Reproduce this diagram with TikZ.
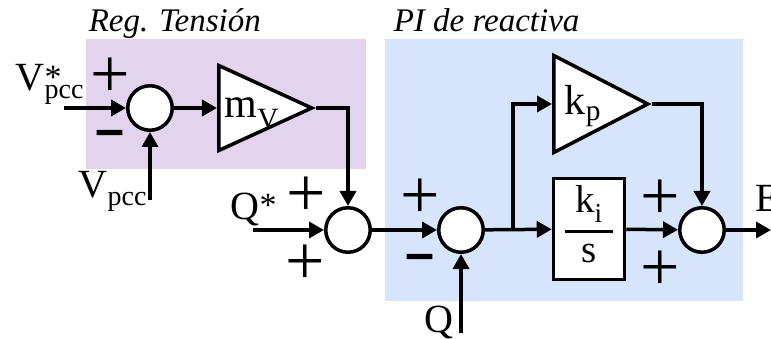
\documentclass[tikz,border=0pt]{standalone}
\usepackage{graphicx}
\usepackage{fontspec}
\setmainfont{Liberation Serif}
\usetikzlibrary{arrows.meta,shapes.geometric,positioning}
\definecolor{morado}{RGB}{227,212,238}
\definecolor{azul}{RGB}{214,229,252}

\begin{document}
\begin{tikzpicture}[x=1pt, y=-1pt, line width=3.5pt,
  flecha/.style={-{Triangle[length=15pt,width=16pt]}},
  suma/.style={circle, draw, fill=white, minimum size=44.5pt, inner sep=0pt},
  ganancia/.style={isosceles triangle, isosceles triangle stretches, draw, fill=white, inner sep=0pt, anchor=lower side},
  bloque/.style={rectangle, draw, fill=white, minimum width=71pt, minimum height=101pt, inner sep=0pt, font=\fontsize{39}{42}\selectfont},
  signo/.style={font=\fontsize{70}{70}\selectfont, inner sep=0pt},
  menos/.style={font=\fontsize{50}{50}\selectfont\bfseries, inner sep=0pt},
  etiq/.style={font=\fontsize{40}{44}\selectfont, inner sep=0pt, anchor=base west},
  titulo/.style={font=\fontsize{33}{36}\selectfont\itshape, inner sep=0pt, anchor=base west}]
  \useasboundingbox (0,0) rectangle (771,339);

  % Fondos
  \fill[morado] (86,39) rectangle (366,169);
  \fill[azul] (385,39) rectangle (743,301);
  \node[titulo] (t1) at (87,32) {Reg. Tensión};
  \node[titulo] (t2) at (392,32) {PI de reactiva};

  % Bloques
  \node[suma] (s1) at (150,108) {};
  \node[ganancia, minimum width=85pt, minimum height=93pt] (mv) at (217,108) {};
  \node[suma] (s2) at (348,230) {};
  \node[suma] (s3) at (461,230) {};
  \node[ganancia, minimum width=97pt, minimum height=94pt] (kp) at (552,104) {};
  \node[bloque] (ki) at (589,229)
    {\setlength{\arrayrulewidth}{2.5pt}\begin{tabular}{@{\hspace{10pt}}c@{\hspace{10pt}}}k\textsubscript{i}\\[5pt]\hline s\end{tabular}};
  \node[suma] (s4) at (702,230) {};

  \node[etiq, font=\fontsize{42}{44}\selectfont] (lmv) at (223,118) {m\textsubscript{V}};
  \node[etiq, font=\fontsize{42}{44}\selectfont] (lkp) at (563,115) {k\textsubscript{p}};

  % Entradas y salida
  \coordinate (e1) at (64,108);
  \coordinate (vm) at (150,200);
  \coordinate (e2) at (253,230);
  \coordinate (qm) at (461,333);
  \coordinate (r) at (513,230);
  \coordinate (sal) at (771,230);

  \node[etiq] (lvref) at (14,91) {V\rlap{\raisebox{2pt}{\fontsize{34}{34}\selectfont *}}\raisebox{-8pt}{\fontsize{28}{28}\selectfont pcc}};
  \node[etiq] (lvm) at (77,198) {V\raisebox{-8pt}{\fontsize{28}{28}\selectfont pcc}};
  \node[etiq] (lqref) at (229,220) {Q\raisebox{3pt}{\fontsize{34}{34}\selectfont *}};
  \node[etiq] (lq) at (423,332) {Q};
  \node[etiq] (le) at (754,212) {E};

  % Signos
  \node[signo] (p1) at (110,78) {+};
  \node[menos] (m1) at (110,140) {\scalebox{1}[1.5]{–}};
  \node[signo] (p2) at (306,197) {+};
  \node[signo] (p3) at (305,265) {+};
  \node[signo] (p4) at (420,199) {+};
  \node[menos] (m2) at (420,264) {\scalebox{1}[1.5]{–}};
  \node[signo] (p5) at (660,200) {+};
  \node[signo] (p6) at (660,271) {+};

  % Conexiones
  \draw[flecha] (e1) -- (s1);
  \draw[flecha] (vm) -- (s1);
  \draw[flecha] (s1) -- (mv);
  \draw[flecha] (mv.apex) -| (s2);
  \draw[flecha] (e2) -- (s2);
  \draw[flecha] (s2) -- (s3);
  \draw[flecha] (qm) -- (s3);
  \draw[flecha] (s3) -- (ki);
  \draw[flecha] (r) |- (kp);
  \draw[flecha] (kp.apex) -| (s4);
  \draw[flecha] (ki) -- (s4);
  \draw[flecha] (s4) -- (sal);
\end{tikzpicture}
\end{document}
